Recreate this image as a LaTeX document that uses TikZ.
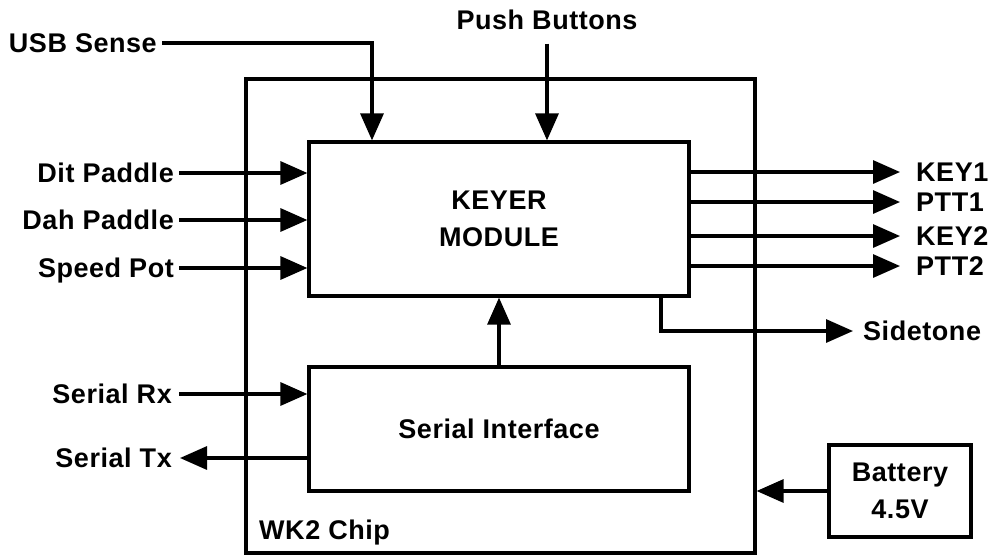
\documentclass[tikz,border=0pt]{standalone}
\usepackage{fontspec}
\setmainfont{Liberation Sans}[LetterSpace=2]
\usetikzlibrary{arrows.meta}
\begin{document}
\begin{tikzpicture}[x=1pt,y=-1pt,
  every node/.style={font=\bfseries\fontsize{27}{37}\selectfont},
  blk/.style={draw,line width=3.2pt,rectangle,inner sep=0pt},
  wire/.style={line width=3.2pt},
  arr/.style={wire,-{Triangle[length=27pt,width=23pt]}},
  lbl/.style={inner sep=0pt,text height=19pt,text depth=0pt}
]
\useasboundingbox (0,0) rectangle (990,555);
% boxes
\node[blk,minimum width=509pt,minimum height=474pt] (chip) at (500.5,316) {};
\node[blk,minimum width=380pt,minimum height=154pt,align=center] (keyer) at (499,219) {KEYER\\MODULE};
\node[blk,minimum width=380pt,minimum height=124pt] (serial) at (499,429) {Serial Interface};
\node[blk,minimum width=142pt,minimum height=92pt,align=center] (bat) at (900,491) {Battery\\4.5V};
\node[lbl,anchor=west] (wk2) at (259,530) {WK2 Chip};
% top inputs
\node[lbl,inner xsep=5pt,anchor=east] (usb) at (162,43) {USB Sense};
\node[lbl,inner ysep=14pt] (push) at (547,20) {Push Buttons};
\draw[arr] (usb.east) -| ([xshift=-127pt]keyer.north);
\draw[arr] (push.south) -- (push.south |- keyer.north);
% left inputs
\node[lbl,inner xsep=5pt,anchor=east] (dit) at (179,173) {Dit Paddle};
\node[lbl,inner xsep=5pt,anchor=east] (dah) at (179,220) {Dah Paddle};
\node[lbl,inner xsep=5pt,anchor=east] (spd) at (179,268) {Speed Pot};
\draw[arr] (dit.east) -- (keyer.west |- dit.east);
\draw[arr] (dah.east) -- (keyer.west |- dah.east);
\draw[arr] (spd.east) -- (keyer.west |- spd.east);
% outputs
\node[lbl,inner xsep=16pt,anchor=west] (key1) at (900,172) {KEY1};
\node[lbl,inner xsep=16pt,anchor=west] (ptt1) at (900,202) {PTT1};
\node[lbl,inner xsep=16pt,anchor=west] (key2) at (900,236) {KEY2};
\node[lbl,inner xsep=16pt,anchor=west] (ptt2) at (900,266) {PTT2};
\draw[arr] (keyer.east |- key1.west) -- (key1.west);
\draw[arr] (keyer.east |- ptt1.west) -- (ptt1.west);
\draw[arr] (keyer.east |- key2.west) -- (key2.west);
\draw[arr] (keyer.east |- ptt2.west) -- (ptt2.west);
\node[lbl,inner xsep=10pt,anchor=west] (side) at (853,331) {Sidetone};
\draw[arr] ([xshift=162pt]keyer.south) |- (side.west);
% serial
\draw[arr] (serial.north) -- (keyer.south);
\node[lbl,inner xsep=7pt,anchor=east] (rx) at (179,394) {Serial Rx};
\node[lbl,inner xsep=8pt,anchor=east] (tx) at (180,458) {Serial Tx};
\draw[arr] (rx.east) -- (serial.west |- rx.east);
\draw[arr] (serial.west |- tx.east) -- (tx.east);
% battery
\draw[arr] (bat.west) -- (chip.east |- bat.west);
\end{tikzpicture}
\end{document}
